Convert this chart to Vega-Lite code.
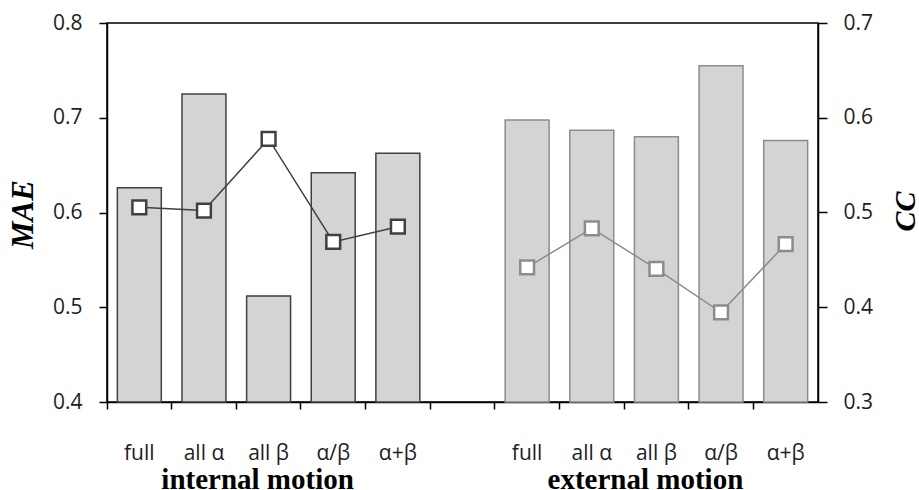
{
  "$schema": "https://vega.github.io/schema/vega-lite/v6.json",
  "autosize": "none",
  "width": 711,
  "height": 379,
  "padding": {"left": 107, "top": 23, "right": 101, "bottom": 88},
  "background": "white",
  "config": {
    "view": {"stroke": "#000000", "strokeWidth": 1.5},
    "axis": {
      "domainColor": "#000000",
      "domainWidth": 1.5,
      "tickColor": "#000000",
      "tickWidth": 1.5,
      "labelFont": "Open Sans",
      "labelFontSize": 21,
      "labelColor": "#1e1e1e",
      "grid": false
    }
  },
  "data": {
    "values": [
      {"id": "i1", "group": "internal", "mae": 0.626, "cc": 0.5055},
      {"id": "i2", "group": "internal", "mae": 0.725, "cc": 0.502},
      {"id": "i3", "group": "internal", "mae": 0.512, "cc": 0.5776},
      {"id": "i4", "group": "internal", "mae": 0.642, "cc": 0.469},
      {"id": "i5", "group": "internal", "mae": 0.6625, "cc": 0.485},
      {"id": "e1", "group": "external", "mae": 0.6976, "cc": 0.442},
      {"id": "e2", "group": "external", "mae": 0.6867, "cc": 0.4833},
      {"id": "e3", "group": "external", "mae": 0.68, "cc": 0.4404},
      {"id": "e4", "group": "external", "mae": 0.755, "cc": 0.3947},
      {"id": "e5", "group": "external", "mae": 0.676, "cc": 0.4667}
    ]
  },
  "resolve": {"scale": {"y": "independent"}, "axis": {"x": "independent"}},
  "layer": [
    {
      "mark": {"type": "bar", "width": {"band": 0.68}, "fill": "#d4d4d4", "strokeWidth": 1.5},
      "encoding": {
        "x": {
          "field": "id", "type": "nominal",
          "scale": {"type": "band", "domain": ["i1","i2","i3","i4","i5","gap","e1","e2","e3","e4","e5"], "paddingInner": 0, "paddingOuter": 0},
          "axis": {
            "orient": "bottom",
            "title": null,
            "labelAngle": 0,
            "bandPosition": 0,
            "labelDx": 32,
            "tickSize": 7,
            "labelPadding": 33,
            "labelExpr": "datum.value == 'gap' ? '' : ['full','all α','all β','α/β','α+β'][toNumber(slice(datum.value,1))-1]"
          }
        },
        "y": {
          "field": "mae", "type": "quantitative",
          "scale": {"domain": [0.4, 0.8], "nice": false, "zero": false},
          "axis": {
            "orient": "left",
            "values": [0.4, 0.5, 0.6, 0.7, 0.8],
            "format": ".1f",
            "tickSize": 8,
            "labelPadding": 17,
            "title": "MAE",
            "titleFont": "Liberation Serif",
            "titleFontStyle": "italic",
            "titleFontWeight": "bold",
            "titleFontSize": 31,
            "titleColor": "#000000",
            "titleAngle": 270,
            "titleBaseline": "alphabetic",
            "titleX": -75,
            "titleY": 191
          }
        },
        "y2": {"datum": 0.4},
        "stroke": {
          "field": "group", "type": "nominal",
          "scale": {"domain": ["internal", "external"], "range": ["#404040", "#8c8c8c"]},
          "legend": null
        }
      }
    },
    {
      "layer": [
        {
          "mark": {"type": "line", "strokeWidth": 1.5},
          "encoding": {
            "x": {
              "field": "id", "type": "nominal",
              "axis": {
                "orient": "bottom",
                "title": null,
                "values": ["i3", "e3"],
                "labelAngle": 0,
                "ticks": false,
                "tickSize": 0,
                "domain": false,
                "labelPadding": 63,
                "labelOffset": -11,
                "labelLimit": 0,
                "labelFont": "Liberation Serif",
                "labelFontWeight": "bold",
                "labelFontSize": 29,
                "labelColor": "#000000",
                "labelExpr": "datum.value == 'i3' ? 'internal motion' : 'external motion'"
              }
            },
            "y": {
              "field": "cc", "type": "quantitative",
              "scale": {"domain": [0.3, 0.7], "nice": false, "zero": false},
              "axis": {
                "orient": "right",
                "values": [0.3, 0.4, 0.5, 0.6, 0.7],
                "format": ".1f",
                "tickSize": 9,
                "labelPadding": 16,
                "title": "CC",
                "titleFont": "Liberation Serif",
                "titleFontStyle": "italic",
                "titleFontWeight": "bold",
                "titleFontSize": 30,
                "titleColor": "#000000",
                "titleAngle": 270,
                "titleBaseline": "alphabetic",
                "titleX": 96,
                "titleY": 188
              }
            },
            "stroke": {"field": "group", "type": "nominal", "legend": null}
          }
        },
        {
          "mark": {"type": "point", "shape": "square", "size": 190, "filled": true, "fill": "white", "strokeWidth": 2.5, "opacity": 1},
          "encoding": {
            "x": {
              "field": "id", "type": "nominal",
              "axis": {
                "orient": "bottom",
                "title": null,
                "values": ["i3", "e3"],
                "labelAngle": 0,
                "ticks": false,
                "tickSize": 0,
                "domain": false,
                "labelPadding": 63,
                "labelOffset": -11,
                "labelLimit": 0,
                "labelFont": "Liberation Serif",
                "labelFontWeight": "bold",
                "labelFontSize": 29,
                "labelColor": "#000000",
                "labelExpr": "datum.value == 'i3' ? 'internal motion' : 'external motion'"
              }
            },
            "y": {"field": "cc", "type": "quantitative"},
            "stroke": {"field": "group", "type": "nominal", "legend": null}
          }
        }
      ]
    }
  ]
}
